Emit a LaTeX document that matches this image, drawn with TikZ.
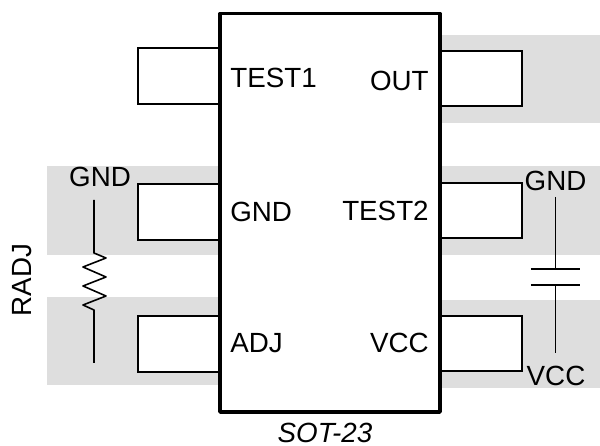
\documentclass[tikz,border=0pt]{standalone}
\usepackage{fontspec}
\setmainfont{Liberation Sans}
\begin{document}
\begin{tikzpicture}[
  x=0.02cm,
  y=-0.02cm,
  font=\fontsize{15.8}{18}\selectfont,
  band/.style={fill=black!13,draw=none},
  pin/.style={draw=black,fill=white,line width=1pt},
  wire/.style={draw=black,line width=0.9pt},
  pinlabel/.style={inner sep=0pt}
]
\useasboundingbox (0,0) rectangle (600,446);

% Grey bands
\fill[band] (47,166) rectangle (220,255);
\fill[band] (47,297) rectangle (220,385);
\fill[band] (440,35) rectangle (600,123);
\fill[band] (440,166) rectangle (600,255);
\fill[band] (440,300) rectangle (600,388);

% Pins
\foreach \y in {48,184,316} {
  \draw[pin] (220,\y) rectangle (138,\y+56);
}
\foreach \y in {51,183,316} {
  \draw[pin] (440,\y) rectangle (522,\y+55);
}

% Package
\draw[line width=2pt,line join=round,fill=white] (220,13.5) rectangle (440,412);

% Pin names
\node[pinlabel,anchor=west] (test1) at (230,78) {TEST1};
\node[pinlabel,anchor=west] (gndl) at (230,212) {GND};
\node[pinlabel,anchor=west] (adj) at (230,343) {ADJ};
\node[pinlabel,anchor=east] (out) at (429,81) {OUT};
\node[pinlabel,anchor=east] (test2) at (429,211) {TEST2};
\node[pinlabel,anchor=east] (vcc) at (429,343) {VCC};
\node[pinlabel] (sot) at (325,432.5) {\itshape SOT-23};

% Resistor
\node[pinlabel] (rgnd) at (100,177) {GND};
\node[pinlabel,rotate=90] (radj) at (22,280) {RADJ};
\coordinate (rtop) at (94,200);
\coordinate (rbot) at (94,363);
\draw[wire,line join=round] (rtop) -- (94,253) -- (106,258) -- (83,267) -- (106,277)
  -- (83,286) -- (106,296) -- (83,305) -- (94,310) -- (rbot);

% Capacitor
\node[pinlabel] (cgnd) at (555.5,181) {GND};
\node[pinlabel] (cvcc) at (556,376) {VCC};
\coordinate (ctop) at (555.5,197);
\coordinate (cbot) at (555.5,353);
\coordinate (plateA) at (555.5,269);
\coordinate (plateB) at (555.5,285);
\draw[wire] (ctop) -- (plateA);
\draw[wire] (plateB) -- (cbot);
\draw[wire] (531,269) -- (580,269);
\draw[wire] (531,285) -- (580,285);

\end{tikzpicture}
\end{document}
